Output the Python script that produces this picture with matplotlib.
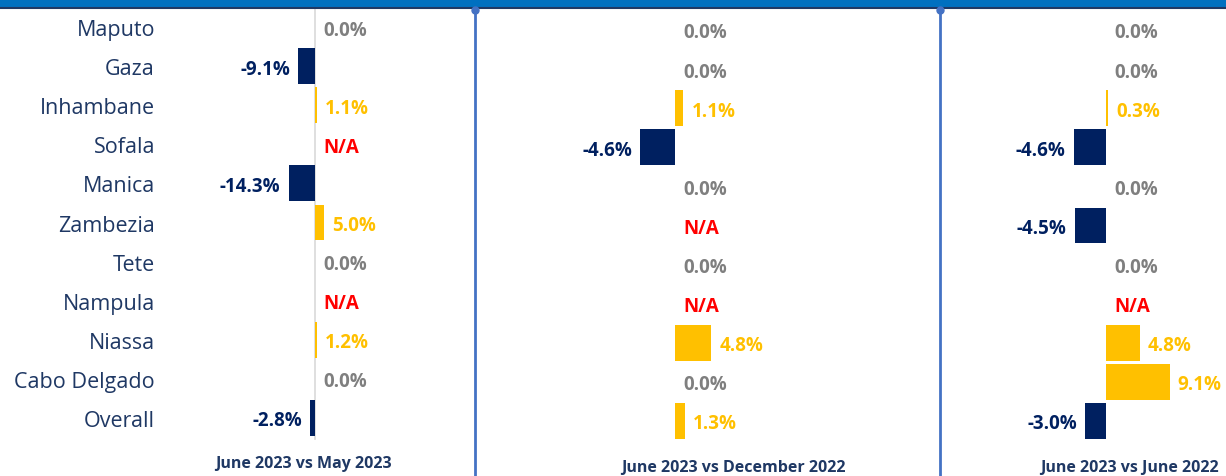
import matplotlib
matplotlib.use("Agg")
import matplotlib.pyplot as plt
from matplotlib.lines import Line2D
from matplotlib.patches import Rectangle
from matplotlib import font_manager as fm
from matplotlib.transforms import offset_copy
import numpy as np

categories = ["Maputo", "Gaza", "Inhambane", "Sofala", "Manica", "Zambezia",
              "Tete", "Nampula", "Niassa", "Cabo Delgado", "Overall"]
vs_may_2023 = [0.0, -9.1, 1.1, None, -14.3, 5.0, 0.0, None, 1.2, 0.0, -2.8]
vs_dec_2022 = [0.0, 0.0, 1.1, -4.6, 0.0, None, 0.0, None, 4.8, 0.0, 1.3]
vs_jun_2022 = [0.0, 0.0, 0.3, -4.6, 0.0, -4.5, 0.0, None, 4.8, 9.1, -3.0]
panel_titles = ["June 2023 vs May 2023", "June 2023 vs December 2022", "June 2023 vs June 2022"]

W, H = 1226, 477
plt.rcParams['font.family'] = ['Open Sans', 'DejaVu Sans']


def find_font(fname_end, fallback_weight):
    for f in fm.fontManager.ttflist:
        if f.fname.endswith(fname_end):
            return fm.FontProperties(fname=f.fname)
    return fm.FontProperties(family=['Open Sans', 'DejaVu Sans'], weight=fallback_weight)


BOLD = find_font("OpenSans-Bold.ttf", "bold")
REG = find_font("OpenSans-Regular.ttf", "normal")

fig = plt.figure(figsize=(W / 100, H / 100), dpi=100)

NAVY = "#002060"
GOLD = "#FFC000"
GRAY = "#7F7F7F"
RED = "#FF0000"
LABEL = "#1F3864"
DIV = "#4472C4"
VFS = 13.5
CFS = 15.5
TFS = 11.5
TEXT_SHIFT = 2.5  # px downward


def fp(base, size):
    p = base.copy()
    p.set_size(size)
    return p


def px_axes(x0, x1, y0, y1):
    return fig.add_axes([x0 / W, 1 - y1 / H, (x1 - x0) / W, (y1 - y0) / H])


panels = [
    (160, 475, 315, 1.85, 28, vs_may_2023),
    (476, 940, 675, 7.6, 31, vs_dec_2022),
    (941, 1226, 1106, 7.0, 31, vs_jun_2022),
]
ROW = 39.1
AY0, AY1 = 10, 450
n = len(categories)
vprop = fp(BOLD, VFS)

for pi, (x0, x1, z, s, r0, vals) in enumerate(panels):
    ax = px_axes(x0, x1, AY0, AY1)
    ax.set_xlim(-(z - x0) / s, (x1 - z) / s)
    top = -(r0 - AY0) / ROW
    bottom = top + (AY1 - AY0) / ROW
    ax.set_ylim(bottom, top)
    ax.axis('off')
    tr = offset_copy(ax.transData, fig=fig, x=0, y=-TEXT_SHIFT, units='dots')
    ypos = np.arange(n)
    v = np.array([0.0 if x is None else x for x in vals])
    colors = [NAVY if x < 0 else GOLD for x in v]
    ax.barh(ypos, v, height=0.92, color=colors, edgecolor='none', zorder=2)
    off = 8 / s
    for i, x in enumerate(vals):
        if x is None:
            ax.text(off, i, "N/A", color=RED, fontproperties=vprop,
                    ha='left', va='center', transform=tr)
        elif x < 0:
            ax.text(x - off, i, f"{x:.1f}%", color=NAVY, fontproperties=vprop,
                    ha='right', va='center', transform=tr)
        elif x > 0:
            ax.text(x + off, i, f"{x:.1f}%", color=GOLD, fontproperties=vprop,
                    ha='left', va='center', transform=tr)
        else:
            ax.text(off, i, f"{x:.1f}%", color=GRAY, fontproperties=vprop,
                    ha='left', va='center', transform=tr)
    if pi == 0:
        ax.plot([0, 0], [top, top + (440 - AY0) / ROW], color="#D9D9D9", lw=1.2, zorder=1)
        for i, c in enumerate(categories):
            fig.text(155 / W, 1 - (r0 + ROW * i + TEXT_SHIFT) / H, c, color=LABEL,
                     fontproperties=fp(REG, CFS), ha='right', va='center')

tprop = fp(BOLD, TFS)
fig.text(303 / W, 1 - 464 / H, panel_titles[0], color=LABEL, fontproperties=tprop,
         ha='center', va='center')
fig.text(733 / W, 1 - 468 / H, panel_titles[1], color=LABEL, fontproperties=tprop,
         ha='center', va='center')
fig.text(1129 / W, 1 - 468 / H, panel_titles[2], color=LABEL, fontproperties=tprop,
         ha='center', va='center')

fig.patches.append(Rectangle((0, 1 - 8 / H), 1, 8 / H, transform=fig.transFigure,
                             color="#0070C0", zorder=5))
fig.lines.append(Line2D([0, 1], [1 - 8.5 / H, 1 - 8.5 / H], transform=fig.transFigure,
                        color="#1F3864", lw=1.5, zorder=6))
for xd in (475, 940):
    fig.lines.append(Line2D([xd / W, xd / W], [0, 1 - 10 / H], transform=fig.transFigure,
                            color=DIV, lw=2, zorder=6))
    fig.lines.append(Line2D([xd / W], [1 - 11 / H], transform=fig.transFigure, marker='o',
                            markersize=5, color=DIV, zorder=7))

fig.savefig("out.png", dpi=100)
